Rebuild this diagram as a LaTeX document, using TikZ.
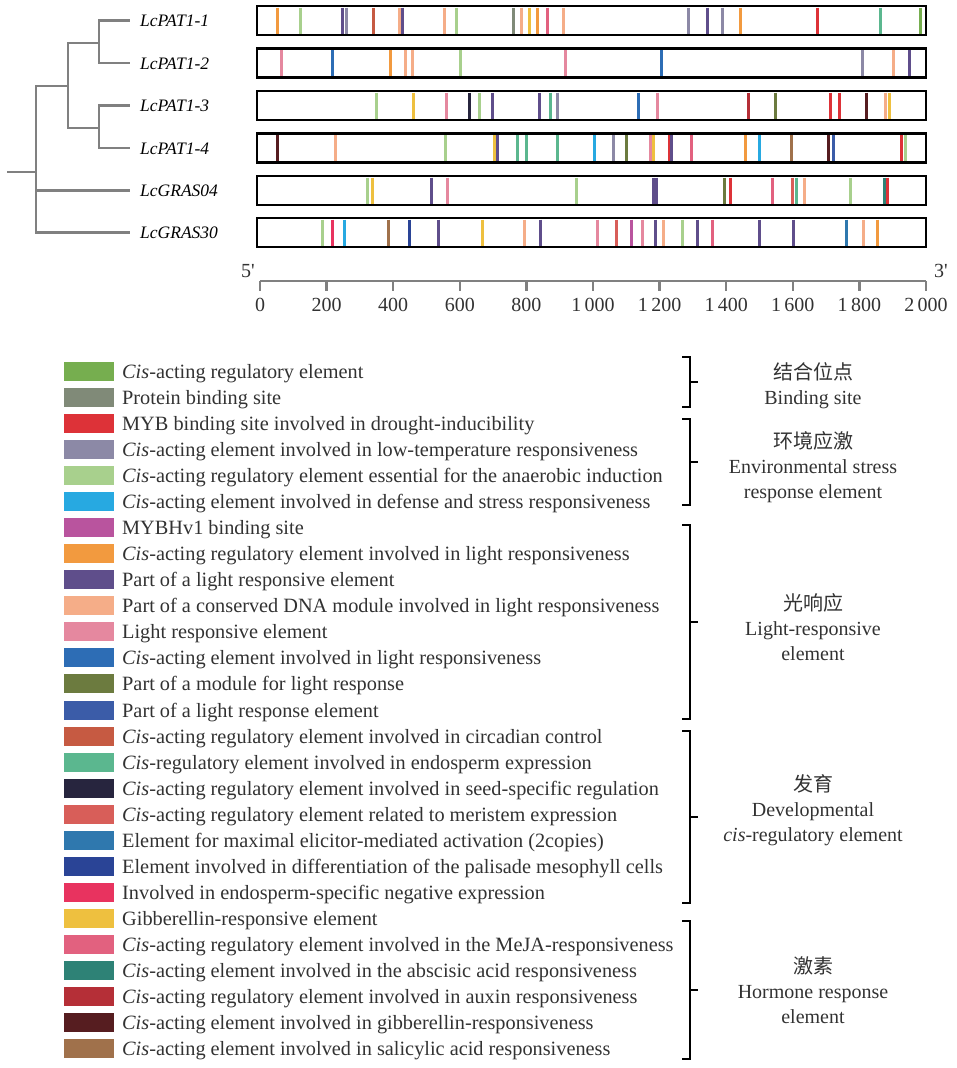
\documentclass[tikz,border=0pt]{standalone}
\usepackage{fontspec}
\setmainfont{Liberation Serif}
\newfontfamily\cjk{Noto Sans CJK SC}
\usetikzlibrary{calc}
\definecolor{tree_gray}{RGB}{128, 128, 128}
\definecolor{txt}{RGB}{50, 50, 50}
\definecolor{el_cis}{RGB}{118, 174, 79}
\definecolor{el_prot}{RGB}{128, 138, 120}
\definecolor{el_myb}{RGB}{221, 50, 56}
\definecolor{el_lowt}{RGB}{140, 137, 166}
\definecolor{el_anaer}{RGB}{168, 208, 141}
\definecolor{el_def}{RGB}{39, 169, 225}
\definecolor{el_mybhv}{RGB}{185, 84, 158}
\definecolor{el_light}{RGB}{242, 154, 63}
\definecolor{el_plre}{RGB}{95, 78, 139}
\definecolor{el_dna}{RGB}{245, 173, 136}
\definecolor{el_lre}{RGB}{229, 136, 159}
\definecolor{el_clr}{RGB}{45, 109, 181}
\definecolor{el_mod}{RGB}{108, 123, 63}
\definecolor{el_plr}{RGB}{59, 92, 168}
\definecolor{el_circ}{RGB}{198, 90, 66}
\definecolor{el_endo}{RGB}{91, 183, 143}
\definecolor{el_seed}{RGB}{39, 37, 62}
\definecolor{el_meri}{RGB}{216, 94, 89}
\definecolor{el_elic}{RGB}{47, 120, 174}
\definecolor{el_diff}{RGB}{42, 68, 150}
\definecolor{el_neg}{RGB}{232, 51, 95}
\definecolor{el_gib}{RGB}{238, 192, 63}
\definecolor{el_meja}{RGB}{226, 97, 127}
\definecolor{el_aba}{RGB}{46, 130, 118}
\definecolor{el_aux}{RGB}{181, 47, 55}
\definecolor{el_gibr}{RGB}{86, 29, 32}
\definecolor{el_sal}{RGB}{160, 113, 75}
\tikzstyle{br}=[draw=tree_gray,line width=2.5pt,shorten >=10pt]
\tikzstyle{gene}=[draw=black,line width=2.5pt,minimum width=669pt,
  minimum height=29pt,inner sep=0pt]
\tikzstyle{mk}=[line width=3pt]
\tikzstyle{gname}=[font=\fontsize{17.5}{20}\selectfont\itshape,anchor=base west,inner sep=0pt]
\tikzstyle{sw}=[minimum width=50pt,minimum height=19pt,inner sep=0pt]
\tikzstyle{lgtext}=[font=\fontsize{20.3}{22}\selectfont,text=txt,anchor=base west,inner sep=0pt]
\tikzstyle{grp}=[font=\fontsize{20}{25}\selectfont,text=txt,align=center,inner sep=0pt]
\tikzstyle{brace}=[draw=black,line width=2pt]
\tikzstyle{axis}=[draw=tree_gray,line width=2.5pt]
\tikzstyle{num}=[font=\fontsize{20}{22}\selectfont,text=txt]

\begin{document}
\begin{tikzpicture}[x=1pt,y=-1pt]
    \useasboundingbox (0,0) rectangle (957,1068);
    % gene names
    \node [style=gname] (g1) at (140, 26.5) {LcPAT1-1};
    \node [style=gname] (g2) at (140, 69) {LcPAT1-2};
    \node [style=gname] (g3) at (140, 111.5) {LcPAT1-3};
    \node [style=gname] (g4) at (140, 154) {LcPAT1-4};
    \node [style=gname] (g5) at (140, 196.5) {LcGRAS04};
    \node [style=gname] (g6) at (140, 238.5) {LcGRAS30};
    % tree
    \coordinate (r0) at (7, 172);
    \coordinate (c0) at (36, 172);
    \coordinate (c1) at (68, 86);
    \coordinate (c2) at (99, 43);
    \coordinate (c3) at (99, 128);
    \draw [axis] (r0) -- (c0);
    \draw [axis] (c0) |- (c1);
    \draw [br] (c0) |- ($(g5.base west)+(0,-6)$);
    \draw [br] (c0) |- ($(g6.base west)+(0,-6)$);
    \draw [axis] (c1) |- (c2);
    \draw [axis] (c1) |- (c3);
    \draw [br] (c2) |- ($(g1.base west)+(0,-6)$);
    \draw [br] (c2) |- ($(g2.base west)+(0,-6)$);
    \draw [br] (c3) |- ($(g3.base west)+(0,-6)$);
    \draw [br] (c3) |- ($(g4.base west)+(0,-6)$);
    % elements on each promoter
    \foreach \x/\c in {277.7/el_light, 300/el_anaer, 342.7/el_plre, 346.7/el_lowt,
      373/el_circ, 399.3/el_dna, 402.7/el_plre, 444/el_dna, 456.7/el_anaer,
      513.7/el_prot, 521.7/el_dna, 529.7/el_gib, 537/el_light, 547.3/el_meja,
      563.3/el_dna, 688/el_lowt, 707.3/el_plre, 722.7/el_lowt, 740.7/el_light,
      817/el_myb, 880.7/el_endo, 920.3/el_cis}
      \draw [mk,draw=\c] (\x, 7.5) -- (\x, 33.5);
    \foreach \x/\c in {281/el_lre, 332.7/el_clr, 390/el_light, 405/el_dna,
      412/el_dna, 460.7/el_anaer, 565.3/el_lre, 661.7/el_clr, 862.7/el_lowt,
      893.7/el_dna, 909.7/el_plre}
      \draw [mk,draw=\c] (\x, 50) -- (\x, 76);
    \foreach \x/\c in {376.3/el_anaer, 413.3/el_gib, 446.3/el_lre, 469.3/el_seed,
      479/el_anaer, 492.3/el_plre, 539.3/el_plre, 550.3/el_endo, 557.7/el_lowt,
      638.7/el_clr, 657.3/el_lre, 748.7/el_aux, 775.3/el_mod, 830/el_myb,
      839/el_myb, 866.3/el_gibr, 885.7/el_dna, 889.3/el_gib}
      \draw [mk,draw=\c] (\x, 92.5) -- (\x, 118.5);
    \foreach \x/\c in {277/el_gibr, 335/el_dna, 445/el_anaer, 494.7/el_gib,
      497.7/el_plre, 517/el_endo, 526/el_endo, 557.7/el_endo, 594.3/el_def,
      613.3/el_lowt, 626/el_mod, 650.7/el_lre, 653.7/el_gib, 669.3/el_myb,
      671.7/el_plre, 691/el_meja, 745.7/el_light, 759.3/el_def, 791.7/el_sal,
      828.7/el_gibr, 833.7/el_plr, 901/el_myb, 905/el_anaer}
      \draw [mk,draw=\c] (\x, 135) -- (\x, 161);
    \foreach \x/\c in {367.3/el_anaer, 372/el_gib, 431.7/el_plre, 447/el_lre,
      576.3/el_anaer, 653.5/el_plre, 656/el_plre, 724.3/el_mod, 730.7/el_myb,
      772/el_meja, 792.3/el_meri, 796/el_endo, 804/el_dna, 850.3/el_anaer,
      884.3/el_aba, 887.7/el_myb}
      \draw [mk,draw=\c] (\x, 177.5) -- (\x, 203.5);
    \foreach \x/\c in {322/el_anaer, 332.7/el_neg, 344.3/el_def, 388.3/el_sal,
      409.3/el_diff, 438.3/el_plre, 482/el_gib, 524.3/el_dna, 540.7/el_plre,
      597.3/el_lre, 616.7/el_meri, 631.7/el_mybhv, 642.3/el_lre, 655.3/el_plre,
      663.3/el_dna, 682.7/el_anaer, 697.7/el_plre, 712.7/el_meja, 759/el_plre,
      793/el_plre, 846.7/el_elic, 863.3/el_dna, 877.7/el_light}
      \draw [mk,draw=\c] (\x, 219.5) -- (\x, 245.5);
    % promoter boxes
    \node [style=gene] (p1) at (591.5, 20.5) {};
    \node [style=gene] (p2) at (591.5, 63) {};
    \node [style=gene] (p3) at (591.5, 105.5) {};
    \node [style=gene] (p4) at (591.5, 148) {};
    \node [style=gene] (p5) at (591.5, 190.5) {};
    \node [style=gene] (p6) at (591.5, 232.5) {};
    % scale
    \coordinate (a0) at (260, 281);
    \coordinate (a1) at (926, 281);
    \draw [axis] (a0) -- (a1);
    \node [style=num] (five) at (248, 271) {5\textquotesingle};
    \node [style=num] (three) at (941, 271) {3\textquotesingle};
    \foreach \v [count=\i from 0] in {0,200,400,600,800,1\,000,1\,200,1\,400,1\,600,1\,800,2\,000} {
      \draw [axis] (260+66.6*\i, 281) -- (260+66.6*\i, 291);
      \node [style=num,anchor=base] (t\i) at (260+66.6*\i, 311) {\v};
    }
    % legend
    \foreach \c/\t [count=\i from 0] in {
      el_cis/\textit{Cis}-acting regulatory element,
      el_prot/Protein binding site,
      el_myb/MYB binding site involved in drought-inducibility,
      el_lowt/\textit{Cis}-acting element involved in low-temperature responsiveness,
      el_anaer/\textit{Cis}-acting regulatory element essential for the anaerobic induction,
      el_def/\textit{Cis}-acting element involved in defense and stress responsiveness,
      el_mybhv/MYBHv1 binding site,
      el_light/\textit{Cis}-acting regulatory element involved in light responsiveness,
      el_plre/Part of a light responsive element,
      el_dna/Part of a conserved DNA module involved in light responsiveness,
      el_lre/Light responsive element,
      el_clr/\textit{Cis}-acting element involved in light responsiveness,
      el_mod/Part of a module for light response,
      el_plr/Part of a light response element,
      el_circ/\textit{Cis}-acting regulatory element involved in circadian control,
      el_endo/\textit{Cis}-regulatory element involved in endosperm expression,
      el_seed/\textit{Cis}-acting regulatory element involved in seed-specific regulation,
      el_meri/\textit{Cis}-acting regulatory element related to meristem expression,
      el_elic/Element for maximal elicitor-mediated activation (2copies),
      el_diff/Element involved in differentiation of the palisade mesophyll cells,
      el_neg/Involved in endosperm-specific negative expression,
      el_gib/Gibberellin-responsive element,
      el_meja/\textit{Cis}-acting regulatory element involved in the MeJA-responsiveness,
      el_aba/\textit{Cis}-acting element involved in the abscisic acid responsiveness,
      el_aux/\textit{Cis}-acting regulatory element involved in auxin responsiveness,
      el_gibr/\textit{Cis}-acting element involved in gibberellin-responsiveness,
      el_sal/\textit{Cis}-acting element involved in salicylic acid responsiveness} {
      \node [style=sw,fill=\c] (s\i) at (89, 371.5+26.04*\i) {};
      \node [style=lgtext] (l\i) at (122, 378.5+26.04*\i) {\t};
    }
    % groups
    \draw [brace] (682, 357) -- (690, 357) -- (690, 407) -- (682, 407);
    \draw [brace] (690, 382) -- (698, 382);
    \draw [brace] (682, 419) -- (690, 419) -- (690, 505) -- (682, 505);
    \draw [brace] (690, 462) -- (698, 462);
    \draw [brace] (682, 525) -- (690, 525) -- (690, 719) -- (682, 719);
    \draw [brace] (690, 622) -- (698, 622);
    \draw [brace] (682, 731) -- (690, 731) -- (690, 903) -- (682, 903);
    \draw [brace] (690, 817) -- (698, 817);
    \draw [brace] (682, 921) -- (690, 921) -- (690, 1059) -- (682, 1059);
    \draw [brace] (690, 990) -- (698, 990);
    \node [style=grp] (k1) at (813, 386) {{\cjk 结合位点}\\Binding site};
    \node [style=grp] (k2) at (813, 467) {{\cjk 环境应激}\\Environmental stress\\response element};
    \node [style=grp] (k3) at (813, 627) {{\cjk 光响应}\\Light-responsive\\element};
    \node [style=grp] (k4) at (813, 810) {{\cjk 发育}\\Developmental\\\textit{cis}-regulatory element};
    \node [style=grp] (k5) at (813, 990) {{\cjk 激素}\\Hormone response\\element};
\end{tikzpicture}
\end{document}
